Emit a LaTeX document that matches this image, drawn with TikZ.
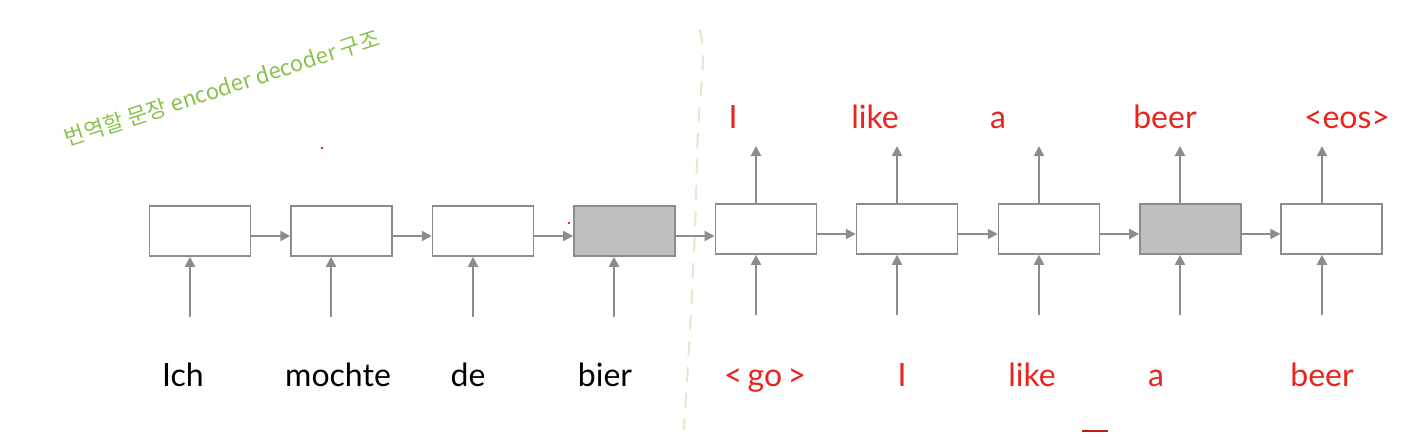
\documentclass[tikz,border=0pt]{standalone}
\usepackage{fontspec}
\setmainfont{Lato}
\newfontfamily\cjk{Noto Sans CJK KR}
\usepackage{tikz}
\usetikzlibrary{arrows.meta,calc,positioning}
\definecolor{cellgray}{RGB}{140,140,140}
\definecolor{cellfill}{RGB}{191,191,191}
\definecolor{wordred}{RGB}{232,36,28}
\definecolor{penGreen}{RGB}{137,194,74}
\definecolor{paleGreen}{RGB}{221,236,202}
\tikzset{
  cell/.style={draw=cellgray, line width=0.75pt, fill=white, minimum width=50.5pt, minimum height=25pt, inner sep=0pt},
  hidden/.style={cell, fill=cellfill},
  arr/.style={-{Triangle[length=5pt,width=5pt]}, cellgray, line width=1pt},
  word/.style={font=\fontsize{16}{19}\selectfont, anchor=base, inner sep=0pt},
  outword/.style={word, text=wordred}
}

\begin{document}
\begin{tikzpicture}[x=0.5pt,y=-0.5pt]
        \useasboundingbox (0,0) rectangle (1420,440);
        % Encoder cells
        \node[cell] (e1) at (200,231) {};
        \node[cell] (e2) at (341.5,231) {};
        \node[cell] (e3) at (483,231) {};
        \node[hidden] (e4) at (624.3,231) {};
        % Decoder cells
        \node[cell] (d1) at (765.8,229) {};
        \node[cell] (d2) at (907,229) {};
        \node[cell] (d3) at (1049,229) {};
        \node[hidden] (d4) at (1190.4,229) {};
        \node[cell] (d5) at (1331.7,229) {};
        % Recurrent links
        \foreach \a/\b in {e1/e2, e2/e3, e3/e4, d1/d2, d2/d3, d3/d4, d4/d5} {
            \draw[arr] ([yshift=-2.5pt]\a.east) -- ([yshift=-2.5pt]\a.east -| \b.west);
          }
        \draw[arr] ([yshift=-2.5pt]e4.east) -- ([yshift=-2.5pt]e4.east -| d1.west);
        % Inputs from below
        \foreach \c/\x/\y in {e1/190/317, e2/331/317, e3/473/317, e4/614/317,
                              d1/756/315, d2/897/315, d3/1039/315, d4/1180/315, d5/1322/315} {
            \coordinate (in-\c) at (\x,\y);
            \draw[arr] (in-\c) -- (in-\c |- \c.south);
          }
        % Outputs above the decoder
        \foreach \c/\x in {d1/756, d2/897, d3/1039, d4/1180, d5/1322} {
            \coordinate (out-\c) at (\x,146);
            \draw[arr] (out-\c |- \c.north) -- (out-\c);
          }
        % Source words
        \node[word] (src1) at (183,386) {Ich};
        \node[word] (src2) at (338,386) {mochte};
        \node[word] (src3) at (468,386) {de};
        \node[word] (src4) at (605,386) {bier};
        % Decoder inputs
        \node[outword] (din1) at (765,386) {<\,go\,>};
        \node[outword] (din2) at (902,386) {I};
        \node[outword] (din3) at (1032,386) {like};
        \node[outword] (din4) at (1156,386) {a};
        \node[outword] (din5) at (1322,386) {beer};
        % Decoder outputs
        \node[outword] (dout1) at (733,128) {I};
        \node[outword] (dout2) at (875,128) {like};
        \node[outword] (dout3) at (998,128) {a};
        \node[outword] (dout4) at (1165,128) {beer};
        \node[outword] (dout5) at (1347,128) {<eos>};
        % Handwritten note
        \node[text=penGreen, font=\cjk\fontsize{11}{13}\selectfont, rotate=18] (note) at (222,88) {번역할 문장 encoder decoder 구조};
        \draw[paleGreen, line width=1pt, dash pattern=on 7pt off 6pt, line cap=round]
            plot[smooth] coordinates {(700,30) (703,60) (698,130) (695,230) (690,330) (684,430)};
        % Stray pen marks
        \fill[wordred] (321,147) rectangle (323,149);
        \fill[wordred] (568,222) rectangle (570,224);
        \draw[wordred!80!black, line width=1pt] (1082,431) -- (1108,431);
      \end{tikzpicture}
\end{document}
